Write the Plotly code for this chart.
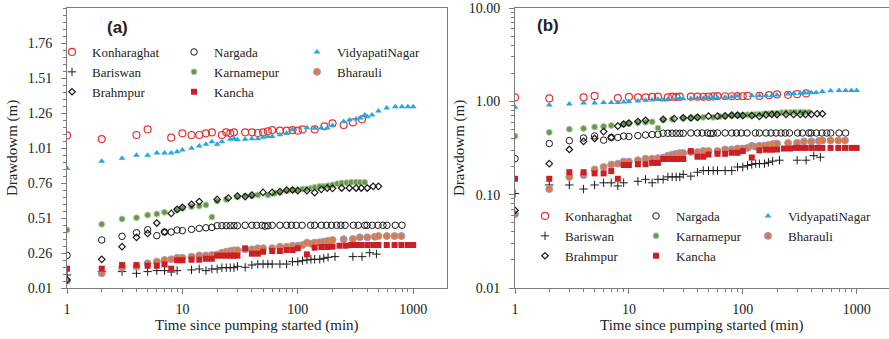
import plotly.graph_objects as go

W, H = 889, 339

# ---------------- data (time in min, drawdown in m) ----------------
konharaghat_t = [1, 2, 4, 5, 8, 10, 12, 14, 16, 18, 22, 24, 26, 28, 35, 40, 45, 50, 55, 60,
                 70, 80, 90, 100, 110, 140, 170, 200, 250, 300, 360]
konharaghat_v = [1.10, 1.074, 1.103, 1.143, 1.084, 1.115, 1.103, 1.103, 1.115, 1.122, 1.103, 1.122,
                 1.115, 1.122, 1.122, 1.122, 1.117, 1.122, 1.129, 1.138, 1.134, 1.134, 1.138, 1.134,
                 1.143, 1.143, 1.165, 1.186, 1.174, 1.193, 1.215]

nargada_t = [1, 2, 3, 4, 5, 6, 7, 8, 9, 10, 12, 14, 16, 18, 20, 22, 24, 26, 28, 30,
             35, 40, 44, 49, 52, 55, 60, 70, 80, 88, 97, 109, 129, 140, 160, 177, 196, 217, 236, 257,
             303, 334, 380, 398, 443, 495, 547, 592, 700, 800]
nargada_v = [0.243, 0.353, 0.379, 0.405, 0.426, 0.384, 0.41, 0.41, 0.424, 0.42,
             0.429, 0.436, 0.44, 0.443, 0.455, 0.455, 0.455, 0.455, 0.455, 0.455,
             0.458, 0.458, 0.458, 0.458, 0.452, 0.455, 0.458, 0.458, 0.458, 0.458,
             0.458, 0.458, 0.458, 0.458, 0.458, 0.458, 0.458, 0.458, 0.458, 0.458,
             0.458, 0.458, 0.458, 0.458, 0.458, 0.458, 0.458, 0.458, 0.458, 0.458]

vidyapati_t = [1, 2, 3, 4, 5, 6, 7, 8, 9, 10, 12, 14, 16, 18, 20, 22, 26, 28, 30, 35,
               40, 45, 50, 55, 60, 70, 80, 90, 120, 140, 160, 180, 200, 250, 280, 320, 350, 380,
               400, 440, 500, 590, 700, 800, 900, 1000]
vidyapati_v = [0.865, 0.915, 0.936, 0.958, 0.958, 0.974, 0.974, 0.974, 0.984, 0.996,
               1.008, 1.024, 1.036, 1.055, 1.036, 1.055, 1.072, 1.076, 1.069, 1.072,
               1.076, 1.076, 1.086, 1.093, 1.093, 1.105, 1.115, 1.141, 1.155, 1.151,
               1.153, 1.153, 1.17, 1.20, 1.21, 1.217, 1.225, 1.246, 1.234, 1.246,
               1.274, 1.296, 1.305, 1.305, 1.305, 1.305]

bariswan_t = [1, 2, 3, 4, 5, 6, 7, 8, 9, 12, 14, 16, 18, 20, 22, 24, 26, 28, 30, 35,
              40, 45, 50, 55, 60, 70, 80, 90, 100, 110, 120, 130, 140, 155, 168, 183, 210, 300, 360,
              420, 480]
bariswan_v = [0.103, 0.127, 0.127, 0.115, 0.127, 0.134, 0.134, 0.124, 0.134, 0.139,
              0.146, 0.134, 0.146, 0.146, 0.155, 0.155, 0.155, 0.155, 0.165, 0.158,
              0.174, 0.181, 0.181, 0.181, 0.181, 0.181, 0.181, 0.198, 0.198, 0.205,
              0.21, 0.215, 0.215, 0.215, 0.222, 0.229, 0.234, 0.234, 0.234, 0.262, 0.252]

karnamepur_t = [1, 2, 3, 4, 5, 6, 7, 9, 10, 12, 14, 16, 18, 20, 24, 30, 35, 40, 45, 55,
                63, 70, 80, 90, 100, 110, 120, 130, 140, 155, 168, 183, 200, 220, 240, 265, 290, 320,
                345, 380]
karnamepur_v = [0.424, 0.465, 0.503, 0.512, 0.531, 0.539, 0.551, 0.567, 0.579, 0.591,
                0.596, 0.603, 0.517, 0.631, 0.643, 0.66, 0.667, 0.669, 0.674, 0.674,
                0.686, 0.693, 0.703, 0.710, 0.710, 0.717, 0.717, 0.722, 0.729, 0.736,
                0.736, 0.741, 0.746, 0.755, 0.760, 0.762, 0.765, 0.767, 0.765, 0.765]

bharauli_t = [1, 2, 3, 4, 5, 6, 7, 8, 9, 10, 12, 14, 16, 18, 20, 22, 24, 26, 28, 30,
              35, 40, 45, 50, 60, 70, 80, 90, 100, 110, 120, 130, 140, 155, 168, 183, 200, 250,
              300, 345, 400, 465, 500, 590, 690, 790]
bharauli_v = [0.062, 0.115, 0.155, 0.162, 0.186, 0.198, 0.21, 0.215, 0.226, 0.226,
              0.234, 0.243, 0.243, 0.246, 0.25, 0.262, 0.269, 0.274, 0.279, 0.279,
              0.286, 0.286, 0.294, 0.294, 0.294, 0.305, 0.305, 0.312, 0.312, 0.317,
              0.334, 0.326, 0.334, 0.336, 0.341, 0.348, 0.353, 0.358, 0.36, 0.372,
              0.372, 0.376, 0.381, 0.381, 0.381, 0.381]

brahmpur_t = [1, 2, 3, 4, 5, 6, 7, 8, 9, 10, 12, 14, 20, 25, 30, 35, 40, 50, 60, 70,
              80, 90, 100, 120, 140, 160, 180, 200, 240, 280, 320, 355, 400, 450, 500]
brahmpur_v = [0.068, 0.215, 0.305, 0.372, 0.40, 0.474, 0.41, 0.543, 0.572, 0.586,
              0.608, 0.627, 0.643, 0.653, 0.667, 0.663, 0.674, 0.693, 0.693, 0.698,
              0.71, 0.71, 0.705, 0.705, 0.691, 0.715, 0.724, 0.722, 0.724, 0.724,
              0.724, 0.724, 0.724, 0.736, 0.736]

kancha_t = [1, 2, 3, 4, 5, 6, 7, 8, 9, 10, 12, 14, 16, 18, 20, 22, 24, 26, 28, 30,
            35, 40, 45, 50, 60, 70, 80, 90, 100, 120, 140, 160, 180, 200, 230, 260, 290, 320,
            355, 400, 450, 500, 590, 690, 790, 900, 1000]
kancha_v = [0.148, 0.148, 0.174, 0.174, 0.169, 0.169, 0.179, 0.148, 0.208, 0.208,
            0.212, 0.212, 0.219, 0.219, 0.241, 0.241, 0.241, 0.241, 0.241, 0.241,
            0.293, 0.255, 0.255, 0.269, 0.274, 0.274, 0.281, 0.281, 0.293, 0.25,
            0.298, 0.303, 0.303, 0.305, 0.312, 0.312, 0.317, 0.317, 0.317, 0.317,
            0.317, 0.317, 0.317, 0.317, 0.317, 0.317, 0.317]

# tick labels
x_tickvals = [1, 10, 100, 1000]
x_ticktext = ["1", "10", "100", "1000"]
ya_tickvals = [0.01, 0.26, 0.51, 0.76, 1.01, 1.26, 1.51, 1.76]
ya_ticktext = ["0.01", "0.26", "0.51", "0.76", "1.01", "1.26", "1.51", "1.76"]
yb_tickvals = [0.01, 0.1, 1, 10]
yb_ticktext = ["0.01", "0.10", "1.00", "10.00"]

x_title = "Time since pumping started (min)"
y_title = "Drawdowm (m)"

# ---------------- styles ----------------
SERIF = "Liberation Serif, Times New Roman, serif"
AXC = "#7a7a7a"
TXT = "#222222"

series = [
    ("Konharaghat", konharaghat_t, konharaghat_v,
     dict(symbol="circle-open", size=7, color="#E3342F", line=dict(color="#E3342F", width=1.2)), 0),
    ("Nargada", nargada_t, nargada_v,
     dict(symbol="circle-open", size=6.5, color="#1a1a1a", line=dict(color="#1a1a1a", width=1)), 1),
    ("VidyapatiNagar", vidyapati_t, vidyapati_v,
     dict(symbol="triangle-up", size=6, color="#27A6DF", line=dict(width=0)), 2),
    ("Bariswan", bariswan_t, bariswan_v,
     dict(symbol="cross-thin-open", size=6, color="#1a1a1a", line=dict(color="#1a1a1a", width=1)), 0),
    ("Karnamepur", karnamepur_t, karnamepur_v,
     dict(symbol="circle", size=6, color="#66994F", line=dict(color="#B3CFA4", width=1)), 1),
    ("Bharauli", bharauli_t, bharauli_v,
     dict(symbol="circle", size=7, color="#DE7A3C", line=dict(color="#9C9AD6", width=1)), 2),
    ("Brahmpur", brahmpur_t, brahmpur_v,
     dict(symbol="diamond-open", size=5, color="#1a1a1a", line=dict(color="#1a1a1a", width=1.2)), 0),
    ("Kancha", kancha_t, kancha_v,
     dict(symbol="square", size=6, color="#CC1F24", line=dict(width=0)), 1),
]

fig = go.Figure()
legend_ids_a = ["legend", "legend2", "legend3"]
legend_ids_b = ["legend4", "legend5", "legend6"]
for name, t, v, mk, col in series:
    assert len(t) == len(v), name
    fig.add_trace(go.Scatter(x=t, y=v, mode="markers", name=name, marker=mk,
                             xaxis="x", yaxis="y", legend=legend_ids_a[col]))
for name, t, v, mk, col in series:
    fig.add_trace(go.Scatter(x=t, y=v, mode="markers", name=name, marker=mk,
                             xaxis="x2", yaxis="y2", legend=legend_ids_b[col]))

# pixel helpers for layout placement
def px(x):
    return x / W

def py(y):
    return 1 - y / H

minor_x = [k * 10 ** e for e in range(0, 4) for k in range(2, 10)]
minor_yb = [k * 10 ** e for e in range(-2, 1) for k in range(2, 10)]

tickfont = dict(family=SERIF, size=14, color=TXT)
common_axis = dict(showline=True, linecolor=AXC, linewidth=1, mirror=True, showgrid=False,
                   zeroline=False, ticks="outside", ticklen=5, tickcolor=AXC, tickfont=tickfont,
                   automargin=False)

ydom = [py(288), py(8)]
fig.update_layout(
    width=W, height=H, template="none",
    font=dict(family=SERIF, size=14, color=TXT),
    paper_bgcolor="white", plot_bgcolor="white",
    margin=dict(l=0, r=0, t=0, b=0),
    showlegend=True,
    xaxis=dict(type="log", range=[0, 3.293], domain=[px(67), px(447)], anchor="y",
               tickmode="array", tickvals=x_tickvals, ticktext=x_ticktext, ticklabelstandoff=3,
               minor=dict(tickmode="array", tickvals=minor_x, ticks="outside", ticklen=3, tickcolor=AXC),
               **common_axis),
    yaxis=dict(range=[0.01, 2.01], domain=ydom, anchor="x",
               tickmode="array", tickvals=ya_tickvals, ticktext=ya_ticktext, ticklabelstandoff=6,
               minor=dict(dtick=0.05, tick0=0.01, ticks="outside", ticklen=3, tickcolor=AXC),
               **common_axis),
    xaxis2=dict(type="log", range=[0, 3.284], domain=[px(515), 1], anchor="y2",
                tickmode="array", tickvals=x_tickvals, ticktext=x_ticktext, ticklabelstandoff=3,
                minor=dict(tickmode="array", tickvals=minor_x, ticks="outside", ticklen=3, tickcolor=AXC),
                **common_axis),
    yaxis2=dict(type="log", range=[-2, 1], domain=ydom, anchor="x2",
                tickmode="array", tickvals=yb_tickvals, ticktext=yb_ticktext, ticklabelstandoff=6,
                minor=dict(tickmode="array", tickvals=minor_yb, ticks="outside", ticklen=3, tickcolor=AXC),
                **common_axis),
)

legfont = dict(family=SERIF, size=13, color=TXT)
def leg(x, ytop):
    return dict(x=px(x), y=py(ytop), xanchor="left", yanchor="top", orientation="v",
                bgcolor="rgba(0,0,0,0)", borderwidth=0, font=legfont, tracegroupgap=0,
                itemwidth=30, itemclick=False, itemdoubleclick=False)

fig.update_layout(
    legend=leg(52, 37), legend2=leg(174, 37), legend3=leg(297, 37),
    legend4=leg(525, 201), legend5=leg(636, 201), legend6=leg(748, 201),
)

ann = []
ann.append(dict(text="<b>(a)</b>", x=px(117), y=py(27)))
ann.append(dict(text="<b>(b)</b>", x=px(548), y=py(25)))
for a in ann:
    a.update(font=dict(family="Liberation Sans", size=17, color=TXT))
for cx in (13, 460):
    ann.append(dict(text=y_title, x=px(cx), y=py(148), textangle=-90,
                    font=dict(family=SERIF, size=15, color=TXT)))
for cx in (257, 702):
    ann.append(dict(text=x_title, x=px(cx), y=py(325),
                    font=dict(family=SERIF, size=15, color=TXT)))
for a in ann:
    a.update(xref="paper", yref="paper", showarrow=False, xanchor="center", yanchor="middle")
fig.update_layout(annotations=ann)

fig.write_html("out.html", config={"displayModeBar": False},
               post_script="document.body.style.margin='0';")
